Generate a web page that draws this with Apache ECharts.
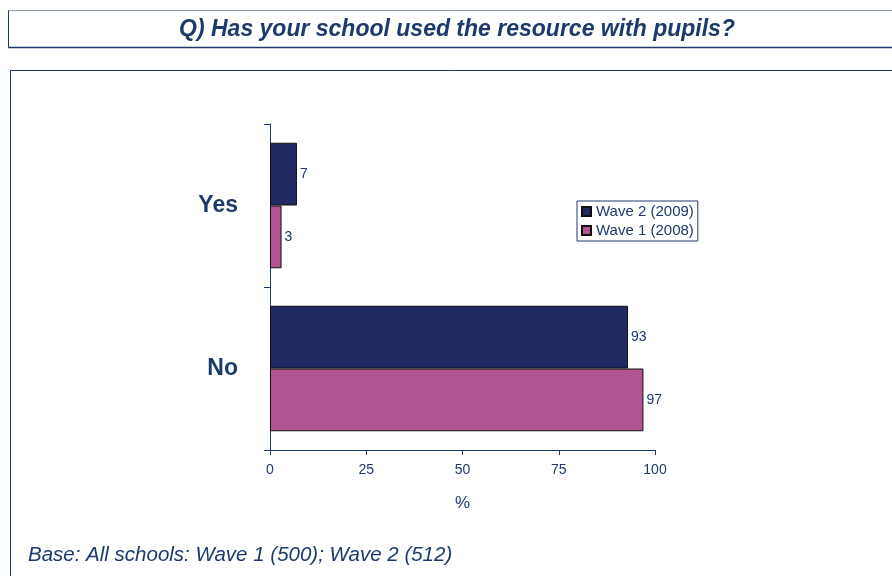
<!DOCTYPE html>
<html>
<head>
<meta charset="utf-8">
<script src="https://cdn.jsdelivr.net/npm/echarts@6/dist/echarts.min.js"></script>
<style>
  html, body { margin: 0; padding: 0; background: #ffffff; }
  #chart { width: 892px; height: 576px; }
</style>
</head>
<body>
<div id="chart"></div>
<script>
// Survey answers, bottom-to-top on the category axis
const categories = ['No', 'Yes'];
const wave2 = [93, 7];   // Wave 2 (2009)
const wave1 = [97, 3];   // Wave 1 (2008)
const seriesNames = ['Wave 2 (2009)', 'Wave 1 (2008)'];
const xTicks = [0, 25, 50, 75, 100];

const navy = '#1c3a6b';
const font = 'Arial, "Liberation Sans", sans-serif';

const chart = echarts.init(document.getElementById('chart'), null, { renderer: 'canvas' });

const labelStyle = {
  show: true,
  position: 'right',
  distance: 3,
  color: navy,
  fontSize: 14,
  fontFamily: font
};

chart.setOption({
  animation: false,
  backgroundColor: '#ffffff',
  grid: { left: 270, right: 237, top: 124, bottom: 126, containLabel: false },
  xAxis: {
    type: 'value',
    min: xTicks[0],
    max: xTicks[xTicks.length - 1],
    interval: 25,
    name: '%',
    nameLocation: 'middle',
    nameGap: 45,
    nameTextStyle: { color: navy, fontSize: 17, fontFamily: font },
    axisLine: { show: true, lineStyle: { color: navy, width: 1 } },
    axisTick: { show: true, length: 5, lineStyle: { color: navy } },
    axisLabel: { color: navy, fontSize: 14, fontFamily: font, margin: 13 },
    splitLine: { show: false }
  },
  yAxis: {
    type: 'category',
    data: categories,
    axisLine: { show: true, lineStyle: { color: navy, width: 1 } },
    axisTick: { show: true, length: 6, lineStyle: { color: navy } },
    axisLabel: { color: navy, fontSize: 23, fontWeight: 'bold', fontFamily: font, margin: 32 }
  },
  legend: {
    data: seriesNames,
    orient: 'vertical',
    left: 577,
    top: 201,
    itemWidth: 9,
    itemHeight: 9,
    itemGap: 4,
    padding: [3, 4, 3, 4],
    borderColor: navy,
    borderWidth: 1,
    icon: 'rect',
    textStyle: { color: navy, fontSize: 15, fontFamily: font, padding: [0, 0, 0, 0] }
  },
  series: [
    {
      name: seriesNames[0],
      type: 'bar',
      data: wave2,
      barGap: '0%',
      barCategoryGap: '23%',
      itemStyle: { color: '#212963', borderColor: '#111111', borderWidth: 1 },
      label: labelStyle
    },
    {
      name: seriesNames[1],
      type: 'bar',
      data: wave1,
      barGap: '0%',
      barCategoryGap: '23%',
      itemStyle: { color: '#b05592', borderColor: '#111111', borderWidth: 1 },
      label: labelStyle
    }
  ],
  graphic: [
    // question header box
    {
      type: 'rect',
      shape: { x: 8.5, y: 10.5, width: 900, height: 37 },
      style: { fill: '#ffffff', stroke: '#8a9ab5', lineWidth: 1 },
      z: 0
    },
    {
      type: 'line',
      shape: { x1: 8.5, y1: 47.5, x2: 892, y2: 47.5 },
      style: { stroke: navy, lineWidth: 1.5 }
    },
    {
      type: 'line',
      shape: { x1: 8.5, y1: 10.5, x2: 8.5, y2: 47.5 },
      style: { stroke: navy, lineWidth: 1 }
    },
    {
      type: 'text',
      style: {
        text: 'Q) Has your school used the resource with pupils?',
        x: 457, y: 30,
        textAlign: 'center', textVerticalAlign: 'middle',
        fill: navy,
        font: 'italic bold 23px ' + font
      }
    },
    // chart frame
    {
      type: 'rect',
      shape: { x: 10.5, y: 70.5, width: 900, height: 520 },
      style: { fill: 'none', stroke: navy, lineWidth: 1 },
      z: -1
    },
    {
      type: 'text',
      style: {
        text: 'Base: All schools: Wave 1 (500); Wave 2 (512)',
        x: 28, y: 555,
        textVerticalAlign: 'middle',
        fill: navy,
        font: 'italic 20.5px ' + font
      }
    }
  ]
});
</script>
</body>
</html>
